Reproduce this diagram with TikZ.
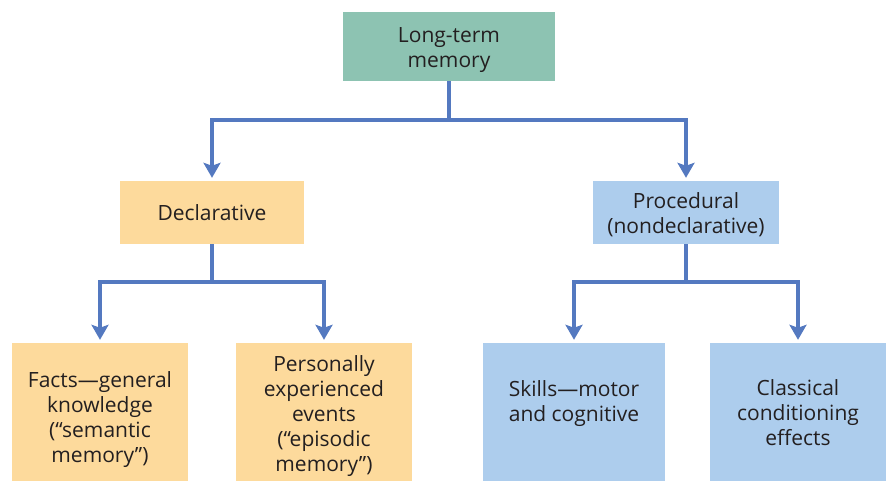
\documentclass[tikz,border=0pt]{standalone}
\usepackage{fontspec}
\setmainfont{Open Sans}
\usetikzlibrary{arrows.meta}

\definecolor{ltmgreen}{HTML}{8DC3B2}
\definecolor{declorange}{HTML}{FDDA9C}
\definecolor{procblue}{HTML}{ADCDED}
\definecolor{linkblue}{HTML}{5479C0}
\definecolor{textgray}{HTML}{231F20}

% centred lines, moved down by #1 inside their box
\newcommand{\memtext}[2]{\raisebox{-#1}[\height][\depth]{\begin{tabular}{@{}c@{}}#2\end{tabular}}}

\tikzset{
  membox/.style={inner sep=0pt, text=textgray,
    font=\fontsize{21}{25}\selectfont},
  link/.style={draw=linkblue, line width=4pt,
    -{Stealth[width=17pt,length=15pt,inset=3pt]}, shorten >=3pt}
}

\begin{document}
\begin{tikzpicture}[x=1pt,y=-1pt]
\useasboundingbox (0,0) rectangle (886,482);

% top level
\node[membox, fill=ltmgreen, minimum width=212pt, minimum height=69pt] (ltm) at (449,46.5) {\memtext{3.5pt}{Long-term\\memory}};

% second level
\node[membox, fill=declorange, minimum width=184pt, minimum height=63pt] (decl) at (212,212.5) {\memtext{2.5pt}{Declarative}};
\node[membox, fill=procblue, minimum width=186pt, minimum height=63pt] (proc) at (686,212.5) {\memtext{3pt}{Procedural\\(nondeclarative)}};

% third level
\node[membox, fill=declorange, minimum width=176pt, minimum height=138pt] (facts) at (100,412) {\memtext{7.5pt}{Facts—general\\knowledge\\(“semantic\\memory”)}};
\node[membox, fill=declorange, minimum width=176pt, minimum height=138pt] (events) at (324,412) {\memtext{4pt}{Personally\\experienced\\events\\(“episodic\\memory”)}};
\node[membox, fill=procblue, minimum width=182pt, minimum height=138pt] (skills) at (574,412) {\memtext{-8pt}{Skills—motor\\and cognitive}};
\node[membox, fill=procblue, minimum width=176pt, minimum height=138pt] (cond) at (798,412) {\memtext{3.5pt}{Classical\\conditioning\\effects}};

% connectors
\draw[link] (ltm.south) -- ++(0,39) -| (decl.north);
\draw[link] (ltm.south) -- ++(0,39) -| (proc.north);
\draw[link] (decl.south) -- ++(0,38) -| (facts.north);
\draw[link] (decl.south) -- ++(0,38) -| (events.north);
\draw[link] (proc.south) -- ++(0,38) -| (skills.north);
\draw[link] (proc.south) -- ++(0,38) -| (cond.north);
\end{tikzpicture}
\end{document}
